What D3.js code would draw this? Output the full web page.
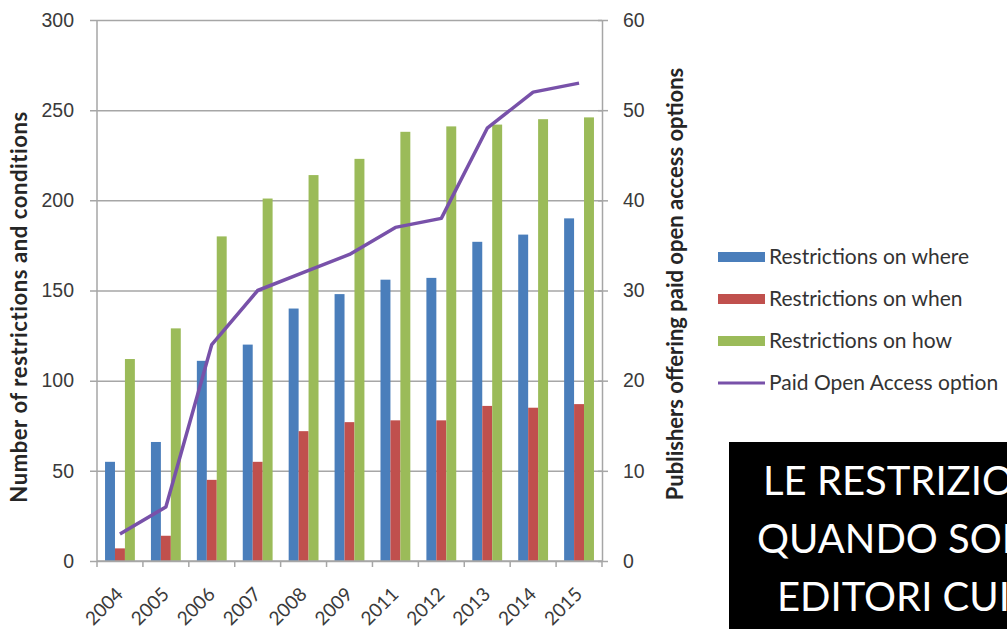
<!DOCTYPE html>
<html>
<head>
<meta charset="utf-8">
<script src="https://cdn.jsdelivr.net/npm/d3@7"></script>
<style>
  body { margin: 0; background: #fff; }
  svg { display: block; font-family: Lato, "Open Sans", sans-serif; }
</style>
</head>
<body>
<script>
const years = ['2004', '2005', '2006', '2007', '2008', '2009', '2011', '2012', '2013', '2014', '2015'];
const where = [55, 66, 111, 120, 140, 148, 156, 157, 177, 181, 190];
const when = [7, 14, 45, 55, 72, 77, 78, 78, 86, 85, 87];
const how = [112, 129, 180, 201, 214, 223, 238, 241, 242, 245, 246];
const paidOA = [3, 6, 24, 30, 32, 34, 37, 38, 48, 52, 53];
const leftTicks = [0, 50, 100, 150, 200, 250, 300];
const rightTicks = [0, 10, 20, 30, 40, 50, 60];
const seriesNames = ['Restrictions on where', 'Restrictions on when', 'Restrictions on how'];
const lineName = 'Paid Open Access option';
const boxLines = ['LE RESTRIZIONI', 'QUANDO SONO', 'EDITORI CUI'];

const colors = ['#4a7ebb', '#c0504d', '#9bbb59'];
const lineColor = '#7851a9';
const gridColor = '#a6a6a6';
const textColor = '#3a3a3a';

const W = 1007, H = 629;
const pLeft = 97, pRight = 602, pTop = 20, pBottom = 561;

const svg = d3.select('body').append('svg')
  .attr('width', W)
  .attr('height', H);

const x = d3.scaleBand()
  .domain(years)
  .range([pLeft, pRight])
  .paddingInner(0.35)
  .paddingOuter(0.175);

const xTick = d3.scaleBand().domain(years).range([pLeft, pRight]);

const xs = d3.scaleBand()
  .domain(d3.range(3))
  .range([0, x.bandwidth()]);

const y = d3.scaleLinear().domain([0, 300]).range([pBottom, pTop]);
const y2 = d3.scaleLinear().domain([0, 60]).range([pBottom, pTop]);

// gridlines + left axis
const yAxis = svg.append('g')
  .attr('transform', `translate(${pLeft},0)`)
  .call(d3.axisLeft(y).tickValues(leftTicks).tickSize(-(pRight - pLeft)).tickSizeOuter(0).tickPadding(23));
yAxis.select('.domain').remove();
yAxis.selectAll('line').attr('stroke', gridColor).attr('stroke-width', 1.5).attr('x1', -7);
yAxis.selectAll('text').attr('fill', textColor).style('font-size', '19.5px');

// right axis
const y2Axis = svg.append('g')
  .attr('transform', `translate(${pRight},0)`)
  .call(d3.axisRight(y2).tickValues(rightTicks).tickSize(6).tickSizeOuter(0).tickPadding(15));
y2Axis.select('.domain').attr('stroke', gridColor).attr('stroke-width', 1.5);
y2Axis.selectAll('line').attr('stroke', gridColor).attr('stroke-width', 1.5).attr('x1', -4);
y2Axis.selectAll('text').attr('fill', textColor).style('font-size', '19.5px');

svg.append('line')
  .attr('x1', pLeft).attr('x2', pLeft)
  .attr('y1', pTop).attr('y2', pBottom)
  .attr('stroke', gridColor).attr('stroke-width', 1.5);

// bars
const groups = svg.append('g').selectAll('g')
  .data(years)
  .join('g')
  .attr('transform', d => `translate(${x(d)},0)`);

groups.selectAll('rect')
  .data((d, i) => [where[i], when[i], how[i]])
  .join('rect')
  .attr('x', (d, j) => xs(j))
  .attr('width', xs.bandwidth())
  .attr('y', d => y(d))
  .attr('height', d => pBottom - y(d))
  .attr('fill', (d, j) => colors[j]);

// bottom axis
const xAxis = svg.append('g')
  .attr('transform', `translate(0,${pBottom})`);
xAxis.append('line')
  .attr('x1', pLeft).attr('x2', pRight)
  .attr('stroke', gridColor).attr('stroke-width', 1.5);
xAxis.selectAll('.tick')
  .data(years.concat(['end']))
  .join('line')
  .attr('class', 'tick')
  .attr('x1', (d, i) => i < years.length ? xTick(d) : pRight)
  .attr('x2', (d, i) => i < years.length ? xTick(d) : pRight)
  .attr('y1', 0).attr('y2', 6)
  .attr('stroke', gridColor).attr('stroke-width', 1.5);
xAxis.selectAll('text')
  .data(years)
  .join('text')
  .attr('transform', d => `translate(${x(d) + x.bandwidth() / 2 - 5},${25}) rotate(-45)`)
  .attr('text-anchor', 'end')
  .attr('dy', '0.7em')
  .attr('fill', textColor)
  .style('font-size', '19px')
  .text(d => d);

// line
const line = d3.line()
  .x((d, i) => x(years[i]) + x.bandwidth() / 2)
  .y(d => y2(d));

svg.append('path')
  .datum(paidOA)
  .attr('d', line)
  .attr('fill', 'none')
  .attr('stroke', lineColor)
  .attr('stroke-width', 3.5)
  .attr('stroke-linejoin', 'round');

// axis titles
svg.append('text')
  .attr('transform', `translate(27,${307}) rotate(-90)`)
  .attr('text-anchor', 'middle')
  .attr('fill', '#262626')
  .style('font-size', '22px')
  .style('font-weight', 'bold')
  .style('letter-spacing', '0.6px')
  .text('Number of restrictions and conditions');

svg.append('text')
  .attr('transform', `translate(683,${284}) rotate(-90)`)
  .attr('text-anchor', 'middle')
  .attr('fill', '#262626')
  .style('font-size', '22px')
  .style('font-weight', 'bold')
  .text('Publishers offering paid open access options');

// legend
const legend = svg.append('g').attr('transform', 'translate(718,257)');
const legendRows = seriesNames.concat([lineName]);
const lg = legend.selectAll('g')
  .data(legendRows)
  .join('g')
  .attr('transform', (d, i) => `translate(0,${i * 42})`);

lg.filter((d, i) => i < 3).append('rect')
  .attr('y', -5).attr('width', 47).attr('height', 10)
  .attr('fill', (d, i) => colors[i]);
lg.filter((d, i) => i === 3).append('line')
  .attr('x1', 0).attr('x2', 47)
  .attr('stroke', lineColor).attr('stroke-width', 3);
lg.append('text')
  .attr('x', 51)
  .attr('dy', '0.35em')
  .attr('fill', '#333')
  .style('font-size', '21px')
  .text(d => d);

// black box
svg.append('clipPath').attr('id', 'boxclip')
  .append('rect').attr('x', 729).attr('y', 442).attr('width', W - 729).attr('height', H - 442);
const box = svg.append('g').attr('clip-path', 'url(#boxclip)');
box.append('rect')
  .attr('x', 729).attr('y', 442).attr('width', W - 729).attr('height', H - 442)
  .attr('fill', '#000');
box.selectAll('text')
  .data(boxLines)
  .join('text')
  .attr('x', (d, i) => [763, 757, 777][i])
  .attr('y', (d, i) => 495 + i * 58)
  .attr('fill', '#fff')
  .style('font-size', '40px')
  .text(d => d);
</script>
</body>
</html>
